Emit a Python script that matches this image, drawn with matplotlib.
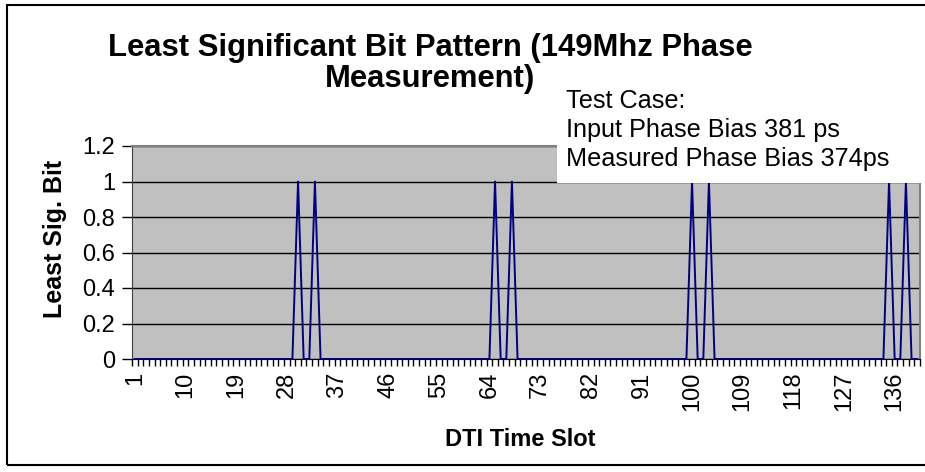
import matplotlib
matplotlib.use("Agg")
import matplotlib.pyplot as plt
from matplotlib.patches import Rectangle

plt.rcParams['font.family'] = ['Liberation Sans', 'DejaVu Sans']

# ---- data ----
categories = list(range(1, 141))
lsb = [
    0, 0, 0, 0, 0, 0, 0, 0, 0, 0, 0, 0, 0, 0, 0, 0, 0, 0, 0, 0, 0, 0, 0, 0, 0, 0, 0, 0, 0, 1, 0, 0, 1, 0, 0,
    0, 0, 0, 0, 0, 0, 0, 0, 0, 0, 0, 0, 0, 0, 0, 0, 0, 0, 0, 0, 0, 0, 0, 0, 0, 0, 0, 0, 0, 1, 0, 0, 1, 0, 0,
    0, 0, 0, 0, 0, 0, 0, 0, 0, 0, 0, 0, 0, 0, 0, 0, 0, 0, 0, 0, 0, 0, 0, 0, 0, 0, 0, 0, 0, 1, 0, 0, 1, 0, 0,
    0, 0, 0, 0, 0, 0, 0, 0, 0, 0, 0, 0, 0, 0, 0, 0, 0, 0, 0, 0, 0, 0, 0, 0, 0, 0, 0, 0, 0, 1, 0, 0, 1, 0, 0,
]
x_tick_labels = [1, 10, 19, 28, 37, 46, 55, 64, 73, 82, 91, 100, 109, 118, 127, 136]
y_ticks = [0, 0.2, 0.4, 0.6, 0.8, 1, 1.2]
y_tick_labels = ['0', '0.2', '0.4', '0.6', '0.8', '1', '1.2']
title = "Least Significant Bit Pattern (149Mhz Phase\nMeasurement)"
note_lines = ["Test Case:", "Input Phase Bias 381 ps", "Measured Phase Bias 374ps"]

W, H = 925, 472
fig = plt.figure(figsize=(W / 100, H / 100), dpi=100)

def fx(px):
    return px / W

def fy(py):
    return 1 - py / H

# outer chart border
fig.patches.append(Rectangle((fx(7), fy(465)), fx(930) - fx(7), fy(5) - fy(465),
                             transform=fig.transFigure, fill=False, edgecolor='black',
                             linewidth=1.5, zorder=0))

left, right, top, bottom = 132, 920, 146, 359
ax = fig.add_axes([fx(left), fy(bottom), fx(right) - fx(left), fy(top) - fy(bottom)])
ax.set_facecolor('#C0C0C0')

ax.plot(categories, lsb, color='#000080', linewidth=1.4, clip_on=False, zorder=3)

ax.set_xlim(0.5, len(categories) + 0.5)
ax.set_ylim(0, 1.2)

ax.set_yticks(y_ticks)
ax.set_yticklabels(y_tick_labels, fontsize=17)
ax.yaxis.grid(True, color='black', linewidth=1.0)
ax.set_axisbelow(True)
ax.tick_params(axis='y', direction='out', length=7, width=1, pad=5, color='black')

ax.set_xticks(x_tick_labels)
ax.set_xticklabels([str(v) for v in x_tick_labels], rotation=90, fontsize=17)
ax.set_xticks([i + 0.5 for i in range(0, len(categories) + 1)], minor=True)
ax.tick_params(axis='x', which='major', length=0, pad=9)
ax.tick_params(axis='x', which='minor', direction='out', length=5, width=1, color='black')

for s in ['top', 'right']:
    ax.spines[s].set_color('#808080')
    ax.spines[s].set_linewidth(1.5)
ax.spines['left'].set_color('#404040')
ax.spines['bottom'].set_color('black')

fig.text(fx(430), fy(48), title.split("\n")[0], ha='center', va='center',
         fontsize=22.3, fontweight='bold')
fig.text(fx(430), fy(79), title.split("\n")[1], ha='center', va='center',
         fontsize=22.3, fontweight='bold')

fig.text(fx(55), fy(239), "Least Sig. Bit", rotation=90, ha='center', va='center',
         fontsize=18, fontweight='bold')
fig.text(fx(520), fy(440), "DTI Time Slot", ha='center', va='center',
         fontsize=17, fontweight='bold')

# white note box
fig.patches.append(Rectangle((fx(557), fy(183)), fx(922) - fx(557), fy(85) - fy(183),
                             transform=fig.transFigure, facecolor='white', edgecolor='none',
                             zorder=5))
for i, line in enumerate(note_lines):
    fig.text(fx(566), fy(101 + 29 * i), line, ha='left', va='center', fontsize=18.2, zorder=6)

fig.savefig('out.png', dpi=100)
